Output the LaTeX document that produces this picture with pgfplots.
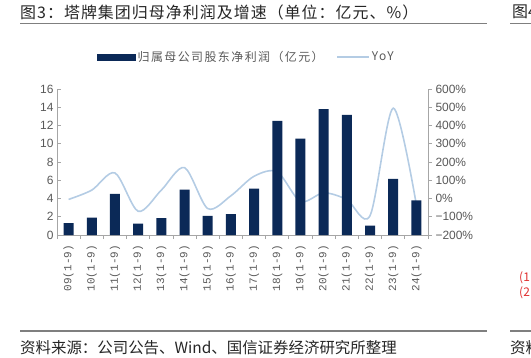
\documentclass[border=0pt]{standalone}
\usepackage{fontspec}
\usepackage{pgfplots}
\pgfplotsset{compat=1.18}
\setmainfont{Liberation Sans}
\newfontfamily\cjk{Noto Sans CJK SC}
\newfontfamily\cjktitle[LetterSpace=6.5]{Noto Sans CJK SC}
\newfontfamily\cjkleg[LetterSpace=12]{Noto Sans CJK SC}
\newfontfamily\mono{Liberation Mono}
\definecolor{navy}{HTML}{0B2957}
\definecolor{lineblue}{HTML}{B4CCE4}
\definecolor{tickgray}{HTML}{595959}
\definecolor{axisgray}{HTML}{A6A6A6}
\definecolor{rulegray}{HTML}{7F7F7F}
\definecolor{titlec}{HTML}{262626}
\definecolor{noteRed}{HTML}{E03030}
\begin{document}
\begin{tikzpicture}[x=1bp,y=1bp]
\path[use as bounding box] (0,0) rectangle (531,357);
\begin{scope}
\clip (0,0) rectangle (531,357);
% title and rules
\node[anchor=west, inner sep=0pt, text=titlec, font=\cjktitle\fontsize{16}{16}\selectfont] at (20,345) {图3：塔牌集团归母净利润及增速（单位：亿元、\%）};
\node[anchor=west, inner sep=0pt, text=titlec, font=\cjk\fontsize{16}{16}\selectfont] at (512,345) {图4};
\draw[rulegray, line width=1.3bp] (20,333.5) -- (487,333.5);
\draw[rulegray, line width=1.3bp] (510,333.5) -- (531,333.5);
\draw[rulegray, line width=1.3bp] (20,26) -- (487,26);
\draw[rulegray, line width=1.3bp] (510,26) -- (531,26);
\node[anchor=west, inner sep=0pt, text=titlec, font=\cjk\fontsize{15.5}{16}\selectfont] at (20,9) {资料来源：公司公告、Wind、国信证券经济研究所整理};
\node[anchor=west, inner sep=0pt, text=titlec, font=\cjk\fontsize{15.5}{16}\selectfont] at (510,9) {资料};
\node[anchor=west, inner sep=0pt, text=noteRed, font=\cjk\fontsize{12}{12}\selectfont] at (519,79) {(1};
\node[anchor=west, inner sep=0pt, text=noteRed, font=\cjk\fontsize{12}{12}\selectfont] at (519,64) {(2};

% YoY line axis (drawn first, behind the bars)
\begin{axis}[
  at={(57bp,122bp)}, anchor=south west,
  scale only axis, width=371bp, height=146bp,
  xmin=-0.5, xmax=15.5, ymin=-200, ymax=600,
  axis x line=none, axis y line*=right,
  axis line style={axisgray, line width=0.8bp, -},
  tick align=outside, major tick length=4bp,
  ytick={-200,-100,...,600},
  yticklabels={−200\%,−100\%,0\%,100\%,200\%,300\%,400\%,500\%,600\%},
  ytick style={axisgray, line width=0.8bp},
  yticklabel style={font=\fontsize{12}{12}\selectfont, text=tickgray},
  legend columns=2,
  legend cell align=left,
  legend style={draw=none, fill=none, inner sep=0pt,
    at={(0.108,1.219)}, anchor=west,
    font=\cjkleg\fontsize{12}{12}\selectfont, text=tickgray,
    /tikz/every even column/.append style={column sep=11bp}},
]
\addlegendimage{legend image code/.code={\fill[navy] (0bp,-3bp) rectangle (38bp,3bp);}}
\addlegendentry{归属母公司股东净利润（亿元）}
\addplot[lineblue, line width=1.6bp, smooth, no markers,
  legend image code/.code={\draw[lineblue, line width=1.3bp] (0bp,0bp) -- (32bp,0bp);}]
  coordinates {(0,-5) (1,46) (2,140) (3,-70) (4,46) (5,169) (6,-55) (7,15) (8,122) (9,146) (10,-16) (11,31) (12,-6) (13,-94) (14,495) (15,-36)};
\addlegendentry{YoY}
\end{axis}

% bar axis
\begin{axis}[
  at={(57bp,122bp)}, anchor=south west,
  scale only axis, width=371bp, height=146bp,
  xmin=-0.5, xmax=15.5, ymin=0, ymax=16,
  axis x line*=bottom, axis y line*=left,
  axis line style={axisgray, line width=0.8bp, -},
  tick align=inside, major tick length=4bp,
  ytick={0,2,...,16},
  ytick style={axisgray, line width=0.8bp},
  yticklabel style={font=\fontsize{12}{12}\selectfont, text=tickgray},
  /pgf/number format/assume math mode=true,
  xtick={0,...,15},
  xticklabels={09(1-9),10(1-9),11(1-9),12(1-9),13(1-9),14(1-9),15(1-9),16(1-9),17(1-9),18(1-9),19(1-9),20(1-9),21(1-9),22(1-9),23(1-9),24(1-9)},
  xtick style={draw=none},
  xticklabel style={rotate=90, anchor=east, inner sep=0pt, font=\mono\fontsize{11}{11}\selectfont, text=tickgray},
  xticklabel shift=10bp,
  extra x ticks={-0.5,0.5,...,15.5},
  extra x tick labels={},
  extra x tick style={tick align=outside, xtick style={draw=axisgray, line width=0.8bp}},
]
\addplot[ybar, bar width=10bp, fill=navy, draw=none] coordinates {(0,1.29) (1,1.91) (2,4.50) (3,1.25) (4,1.84) (5,4.97) (6,2.10) (7,2.28) (8,5.07) (9,12.5) (10,10.56) (11,13.8) (12,13.17) (13,1.03) (14,6.15) (15,3.79)};
\end{axis}
\end{scope}
\end{tikzpicture}
\end{document}
